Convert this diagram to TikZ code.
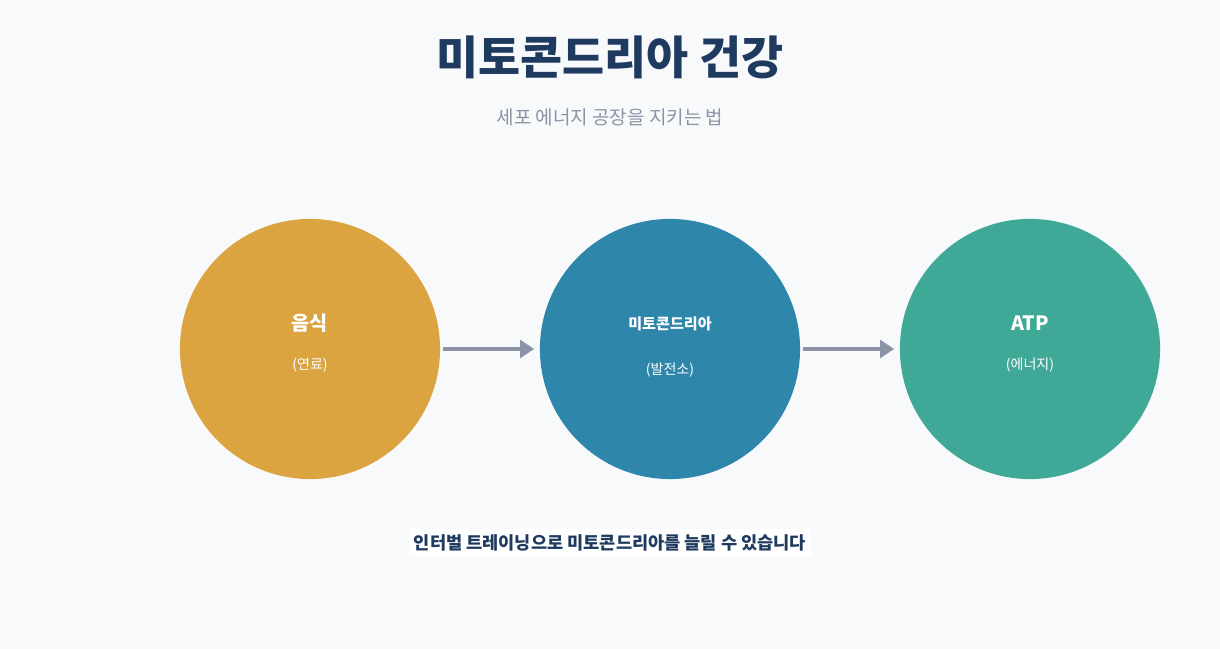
\documentclass[tikz,border=0pt]{standalone}
\usepackage{fontspec}
\setmainfont{Noto Sans CJK KR}
\usetikzlibrary{positioning, arrows.meta}
\definecolor{bgcol}{HTML}{F8F9FB}
\definecolor{titlecol}{HTML}{1F3A5F}
\definecolor{subcol}{HTML}{8A94A6}
\definecolor{foodcol}{HTML}{DBA441}
\definecolor{mitocol}{HTML}{2E86AB}
\definecolor{atpcol}{HTML}{40A896}
\tikzset{
  stage/.style={circle, minimum size=2.6cm, inner sep=0pt},
  stagelabel/.style={text=white, font=\fontsize{5.6}{6}\selectfont\bfseries},
  stagerole/.style={text=white, font=\fontsize{4}{5}\selectfont},
  flow/.style={-{Triangle[length=4pt,width=5pt]}, draw=subcol, line width=0.9pt}
}
\begin{document}
\begin{tikzpicture}[x=0.01cm, y=-0.01cm]
\fill[bgcol] (0,0) rectangle (1220,649);
\useasboundingbox (0,0) rectangle (1220,649);
\node[text=titlecol, font=\fontsize{13}{15}\selectfont\bfseries] (title) at (610,57) {미토콘드리아 건강};
\node[text=subcol, font=\fontsize{5.4}{6}\selectfont] (sub) at (610,117) {세포 에너지 공장을 지키는 법};
\node[stage, fill=foodcol] (food) at (310,349) {};
\node[stage, fill=mitocol] (mito) at (670,349) {};
\node[stage, fill=atpcol] (atp) at (1030,349) {};
\node[stagelabel] (foodname) at (310,323) {음식};
\node[stagerole] (foodrole) at (310,365) {(연료)};
\node[stagelabel, font=\fontsize{4.3}{5}\selectfont\bfseries] (mitoname) at (670,324) {미토콘드리아};
\node[stagerole] (mitorole) at (670,370) {(발전소)};
\node[stagelabel] (atpname) at (1030,323) {ATP};
\node[stagerole] (atprole) at (1030,365) {(에너지)};
\draw[flow] ([xshift=0.02cm]food.east) -- ([xshift=-0.05cm]mito.west);
\draw[flow] ([xshift=0.02cm]mito.east) -- ([xshift=-0.05cm]atp.west);
\node[fill=white, text=titlecol, inner sep=1.5pt, font=\fontsize{5}{6}\selectfont\bfseries] (note) at (610,543) {인터벌 트레이닝으로 미토콘드리아를 늘릴 수 있습니다};
\end{tikzpicture}
\end{document}
